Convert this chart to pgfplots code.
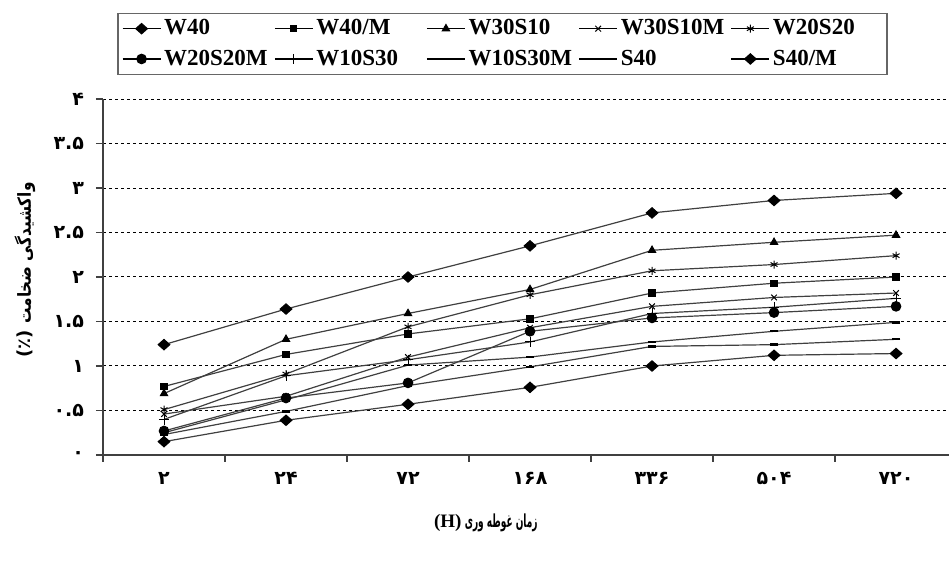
\documentclass[border=0pt]{standalone}
\usepackage{pgfplots}
\pgfplotsset{compat=1.18}
\usepackage{fontspec}
\setmainfont{Liberation Serif}
\newfontfamily\fa[Script=Arabic]{DejaVu Sans}
\TeXXeTstate=1
\pgfplotsset{
  ser/.style={black!75, line width=0.6pt},
  mk/.style={mark options={solid, fill=black, draw=black, line width=0.5pt, #1}},
  mk/.default={},
}
\begin{document}
\begin{tikzpicture}
\useasboundingbox (0,0) rectangle (474.5pt,284pt);
\begin{axis}[
  at={(51.5pt,56.5pt)}, anchor=south west,
  scale only axis, width=423pt, height=178pt,
  xmin=-0.5, xmax=6.434, ymin=0, ymax=4,
  axis x line*=bottom, axis y line*=left,
  axis line style={-, draw=black!75, line width=0.6pt},
  tick align=outside, major tick length=3.5pt,
  tick style={draw=black!75, line width=0.6pt},
  xtick={-0.5,0.5,1.5,2.5,3.5,4.5,5.5},
  xticklabels={۲,۲۴,۷۲,۱۶۸,۳۳۶,۵۰۴,۷۲۰},
  xticklabel style={font=\fa\bfseries\fontsize{9.5}{10}\selectfont, xshift=30.5pt, yshift=-1.5pt},
  ytick={0,0.5,1,1.5,2,2.5,3,3.5,4},
  yticklabels={۰,۰.۵,۱,۱.۵,۲,۲.۵,۳,۳.۵,۴},
  yticklabel style={font=\fa\bfseries\fontsize{9.5}{10}\selectfont, xshift=-2.5pt},
  ymajorgrids, grid style={black, line width=0.5pt, dash pattern=on 1.5pt off 1.5pt},
  xlabel={{\bfseries\fontsize{9.5}{10}\selectfont (H)}\,{\fa\bfseries\fontsize{9}{10}\selectfont\scalebox{0.5}[1]{\beginR زمان غوطه وری\endR}}},
  xlabel style={at={(axis description cs:0.4525,-0.191)}, anchor=center},
  ylabel={{\fa\bfseries\fontsize{9}{10}\selectfont (٪)\ \scalebox{0.85}[1]{\beginR واکشیدگی ضخامت\endR}}},
  ylabel style={at={(axis description cs:-0.0922,0.52)}, anchor=center},
  legend columns=5,
  legend style={at={(0.4722,1.155)}, anchor=center, draw=black!60, line width=0.6pt,
    inner xsep=2pt, inner ysep=1.5pt, row sep=3pt,
    nodes={inner sep=1.5pt, text depth=0.15em},
    font=\bfseries\fontsize{11.5}{12}\selectfont,
    /tikz/every even column/.append style={column sep=0pt}},
  legend cell align=left,
  legend image code/.code={\draw[black, mark repeat=2,mark phase=2] plot coordinates {(0pt,0pt)(9.5pt,0pt)(19pt,0pt)};},
]
% W40
\addplot[ser, mark=diamond*, mark size=2.6pt, mk={xscale=1.5}] table {
x y
0 1.24
1 1.64
2 2.00
3 2.35
4 2.72
5 2.86
6 2.94
};
\addlegendentry{\makebox[53.5pt][l]{W40}}
% W40/M
\addplot[ser, mark=square*, mark size=1.6pt, mk] table {
x y
0 0.77
1 1.13
2 1.36
3 1.53
4 1.82
5 1.93
6 2.00
};
\addlegendentry{\makebox[53.5pt][l]{W40/M}}
% W30S10
\addplot[ser, mark=triangle*, mark size=2.1pt, mk] table {
x y
0 0.69
1 1.30
2 1.59
3 1.86
4 2.30
5 2.39
6 2.47
};
\addlegendentry{\makebox[53.5pt][l]{W30S10}}
% W30S10M
\addplot[ser, mark=x, mark size=2pt, mk] table {
x y
0 0.46
1 0.66
2 1.10
3 1.43
4 1.67
5 1.77
6 1.82
};
\addlegendentry{\makebox[53.5pt][l]{W30S10M}}
% W20S20
\addplot[ser, mark=asterisk, mark size=2pt, mk] table {
x y
0 0.51
1 0.91
2 1.44
3 1.80
4 2.07
5 2.14
6 2.24
};
\addlegendentry{\makebox[53.5pt][l]{W20S20}}
% W20S20M
\addplot[ser, mark=*, mark size=2.4pt, mk] table {
x y
0 0.27
1 0.64
2 0.81
3 1.39
4 1.54
5 1.60
6 1.67
};
\addlegendentry{\makebox[53.5pt][l]{W20S20M}}
% W10S30
\addplot[ser, mark=+, mark size=2.6pt, mk] table {
x y
0 0.40
1 0.89
2 1.07
3 1.27
4 1.59
5 1.66
6 1.76
};
\addlegendentry{\makebox[53.5pt][l]{W10S30}}
% W10S30M
\addplot[ser, mark=-, mark size=2.2pt, mk={line width=1.2pt}] table {
x y
0 0.25
1 0.62
2 1.01
3 1.10
4 1.27
5 1.39
6 1.49
};
\addlegendentry{\makebox[53.5pt][l]{W10S30M}}
% S40
\addplot[ser, mark=-, mark size=2.2pt, mk={line width=1.2pt}] table {
x y
0 0.23
1 0.49
2 0.78
3 0.99
4 1.22
5 1.24
6 1.30
};
\addlegendentry{\makebox[53.5pt][l]{S40}}
% S40/M
\addplot[ser, mark=diamond*, mark size=2.6pt, mk={xscale=1.5}] table {
x y
0 0.15
1 0.39
2 0.57
3 0.76
4 1.00
5 1.12
6 1.14
};
\addlegendentry{\makebox[53.5pt][l]{S40/M}}
\end{axis}
\end{tikzpicture}
\end{document}
